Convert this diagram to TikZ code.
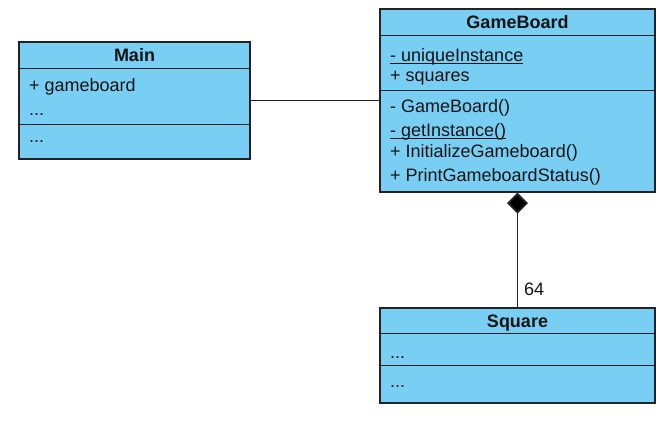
\documentclass[tikz,border=0pt]{standalone}
\usepackage{fontspec}
\setmainfont{Liberation Sans}
\usetikzlibrary{arrows.meta}
\definecolor{cfill}{RGB}{121,206,243}
\definecolor{cline}{RGB}{35,35,35}
\definecolor{ctext}{RGB}{20,20,20}
\newcommand\myunder[1]{{\setbox0\hbox{#1}\rlap{\vrule height -1.6pt depth 2.9pt width \wd0}\box0}}
\begin{document}
\begin{tikzpicture}[x=1pt,y=-1pt,
  cls/.style={draw=cline, fill=cfill, line width=1.4pt, rectangle, inner sep=0pt},
  sepline/.style={draw=cline, line width=1.4pt},
  title/.style={font=\fontsize{18}{20}\selectfont\bfseries, text=ctext, inner sep=0pt, anchor=base},
  lbl/.style={font=\fontsize{18}{20}\selectfont, text=ctext, inner sep=0pt, anchor=base west},
  conn/.style={draw=cline, line width=1.7pt}]
\useasboundingbox (0,0) rectangle (669,422);
% Main
\node[cls, minimum width=231pt, minimum height=117pt] (main) at (134.5,100.5) {};
\draw[sepline] ([yshift=-27pt]main.north west) -- ([yshift=-27pt]main.north east);
\draw[sepline] ([yshift=-83pt]main.north west) -- ([yshift=-83pt]main.north east);
\node[title] (mainT) at (134.5,61.5) {Main};
\node[lbl] (mainA1) at (29,91.5) {+ gameboard};
\node[lbl] (mainA2) at (29,116) {...};
\node[lbl] (mainO1) at (29,143) {...};
% GameBoard
\node[cls, minimum width=275pt, minimum height=183pt] (gb) at (517.5,100.5) {};
\draw[sepline] ([yshift=-27pt]gb.north west) -- ([yshift=-27pt]gb.north east);
\draw[sepline] ([yshift=-82pt]gb.north west) -- ([yshift=-82pt]gb.north east);
\node[title] (gbT) at (517.5,28.5) {GameBoard};
\node[lbl] (gbA1) at (390,61.5) {\myunder{- uniqueInstance}};
\node[lbl] (gbA2) at (390,81.5) {+ squares};
\node[lbl] (gbO1) at (390,112.5) {- GameBoard()};
\node[lbl] (gbO2) at (390,136.5) {\myunder{- getInstance()}};
\node[lbl] (gbO3) at (390,157.5) {+ InitializeGameboard()};
\node[lbl] (gbO4) at (390,181.5) {+ PrintGameboardStatus()};
% Square
\node[cls, minimum width=275pt, minimum height=95pt] (sq) at (517.5,355.5) {};
\draw[sepline] ([yshift=-26pt]sq.north west) -- ([yshift=-26pt]sq.north east);
\draw[sepline] ([yshift=-58pt]sq.north west) -- ([yshift=-58pt]sq.north east);
\node[title] (sqT) at (517.5,327.5) {Square};
\node[lbl] (sqA1) at (390,358) {...};
\node[lbl] (sqO1) at (390,387) {...};
% connectors
\draw[conn] (main.east) -- (gb.west);
\draw[conn, -{Diamond[length=21pt,width=21pt,fill=black]}] (sq.north) -- (gb.south);
\node[lbl] (mult) at (524,295.5) {64};
\end{tikzpicture}
\end{document}
